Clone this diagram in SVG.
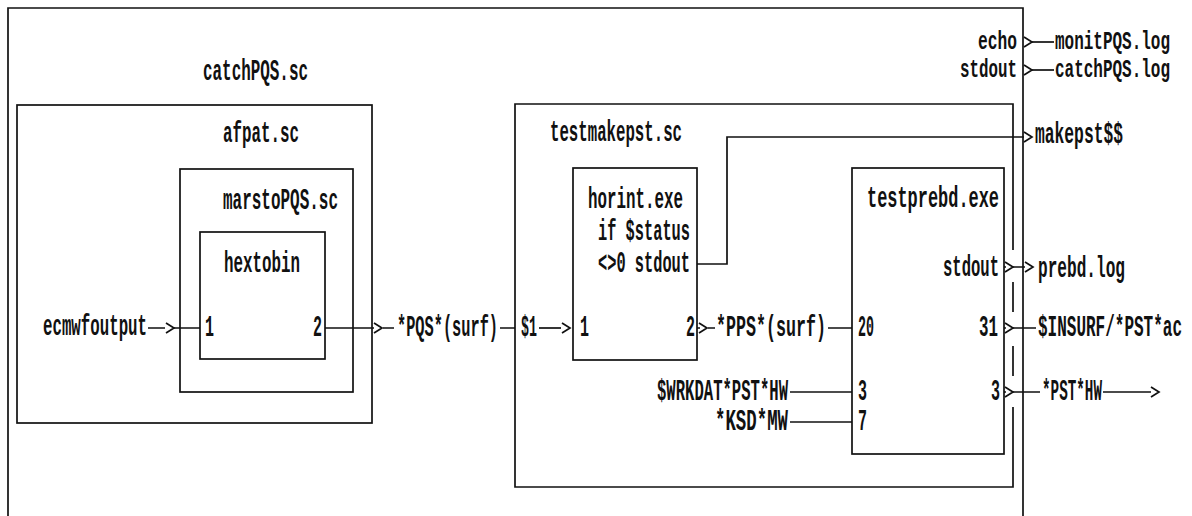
<svg xmlns="http://www.w3.org/2000/svg" xmlns:xlink="http://www.w3.org/1999/xlink" width="1192" height="516" viewBox="0 0 1192 516">
<style>
.b{fill:none;stroke:#111;stroke-width:1.7}
.c{fill:none;stroke:#111;stroke-width:1.7}
text{font-family:"Liberation Mono","Courier New",monospace;font-size:16px;font-weight:bold;fill:#111}
</style>
<defs>
<path id="chev" d="M0,-5 L8,0 L0,5" fill="none" stroke="#111" stroke-width="1.7"/>
</defs>
<rect width="1192" height="516" fill="#fff"/>
<g id="catchPQS">
<path class="b" d="M8,516 L8,8 L1023,8 L1023,516"/>
<text transform="translate(203,80) scale(1,1.8)" textLength="105" lengthAdjust="spacingAndGlyphs">catchPQS.sc</text>
<text transform="translate(978,49) scale(1,1.6)" textLength="39" lengthAdjust="spacingAndGlyphs">echo</text>
<text transform="translate(960,77) scale(1,1.6)" textLength="57" lengthAdjust="spacingAndGlyphs">stdout</text>
</g>
<g id="afpat">
<rect class="b" x="17" y="105" width="355" height="318"/>
<text transform="translate(223,142) scale(1,1.8)" textLength="76" lengthAdjust="spacingAndGlyphs">afpat.sc</text>
</g>
<g id="marstoPQS">
<rect class="b" x="180" y="169" width="173" height="223"/>
<text transform="translate(223,209) scale(1,1.8)" textLength="115" lengthAdjust="spacingAndGlyphs">marstoPQS.sc</text>
</g>
<g id="hextobin">
<rect class="b" x="200" y="232" width="125" height="127"/>
<text transform="translate(224,272) scale(1,1.8)" textLength="76" lengthAdjust="spacingAndGlyphs">hextobin</text>
<text transform="translate(205,336) scale(1,1.8)" textLength="9" lengthAdjust="spacingAndGlyphs">1</text>
<text transform="translate(313,336) scale(1,1.8)" textLength="9" lengthAdjust="spacingAndGlyphs">2</text>
</g>
<g id="testmakepst">
<path class="b" d="M1013,250 L1013,104 L515,104 L515,487 L1013,487 L1013,407 M1013,376 L1013,346 M1013,312 L1013,282"/>
<text transform="translate(550,141) scale(1,1.8)" textLength="132" lengthAdjust="spacingAndGlyphs">testmakepst.sc</text>
</g>
<g id="horint">
<rect class="b" x="573" y="168" width="124" height="192"/>
<text transform="translate(588,208) scale(1,1.8)" textLength="95" lengthAdjust="spacingAndGlyphs">horint.exe</text>
<text transform="translate(598,240) scale(1,1.8)" textLength="92" lengthAdjust="spacingAndGlyphs">if $status</text>
<text transform="translate(598,272) scale(1,1.8)" textLength="92" lengthAdjust="spacingAndGlyphs">&lt;&gt;0 stdout</text>
<text transform="translate(580,336) scale(1,1.8)" textLength="9" lengthAdjust="spacingAndGlyphs">1</text>
<text transform="translate(686,336) scale(1,1.8)" textLength="9" lengthAdjust="spacingAndGlyphs">2</text>
</g>
<g id="testprebd">
<rect class="b" x="852" y="168" width="152" height="286"/>
<text transform="translate(867,207) scale(1,1.8)" textLength="132" lengthAdjust="spacingAndGlyphs">testprebd.exe</text>
<text transform="translate(943,276) scale(1,1.8)" textLength="56" lengthAdjust="spacingAndGlyphs">stdout</text>
<text transform="translate(858,336) scale(1,1.8)" textLength="16" lengthAdjust="spacingAndGlyphs">20</text>
<text transform="translate(979,336) scale(1,1.8)" textLength="19" lengthAdjust="spacingAndGlyphs">31</text>
<text transform="translate(858,400) scale(1,1.8)" textLength="9" lengthAdjust="spacingAndGlyphs">3</text>
<text transform="translate(858,430) scale(1,1.8)" textLength="9" lengthAdjust="spacingAndGlyphs">7</text>
<text transform="translate(991,400) scale(1,1.8)" textLength="9" lengthAdjust="spacingAndGlyphs">3</text>
</g>
<g id="connectors">
<path class="c" d="M148,328 L165,328 M174,328 L200,328"/>
<use xlink:href="#chev" x="166" y="328"/>
<text transform="translate(43,335) scale(1,1.8)" textLength="104" lengthAdjust="spacingAndGlyphs">ecmwfoutput</text>
<path class="c" d="M325,328 L374,328 M383,328 L394,328 M500,328 L515,328"/>
<use xlink:href="#chev" x="374" y="328"/>
<text transform="translate(397,336) scale(1,1.8)" textLength="101" lengthAdjust="spacingAndGlyphs">*PQS*(surf)</text>
<text transform="translate(521,336) scale(1,1.8)" textLength="16" lengthAdjust="spacingAndGlyphs">$1</text>
<path class="c" d="M539,328 L561,328"/>
<use xlink:href="#chev" x="562" y="328"/>
<path class="c" d="M697,328 L700,328 M708,328 L715,328 M828,328 L852,328"/>
<use xlink:href="#chev" x="699" y="328"/>
<text transform="translate(716,336) scale(1,1.8)" textLength="110" lengthAdjust="spacingAndGlyphs">*PPS*(surf)</text>
<path class="c" d="M697,264 L727,264 L727,137 L1024,137"/>
<use xlink:href="#chev" x="1024" y="137"/>
<text transform="translate(1035,143) scale(1,1.8)" textLength="88" lengthAdjust="spacingAndGlyphs">makepst$$</text>
<text transform="translate(657,400) scale(1,1.8)" textLength="131" lengthAdjust="spacingAndGlyphs">$WRKDAT*PST*HW</text>
<path class="c" d="M790,392 L852,392"/>
<text transform="translate(715,430) scale(1,1.8)" textLength="73" lengthAdjust="spacingAndGlyphs">*KSD*MW</text>
<path class="c" d="M790,422 L852,422"/>
<use xlink:href="#chev" x="1024" y="42"/>
<path class="c" d="M1032,42 L1054,42"/>
<text transform="translate(1055,49) scale(1,1.6)" textLength="115" lengthAdjust="spacingAndGlyphs">monitPQS.log</text>
<use xlink:href="#chev" x="1024" y="70"/>
<path class="c" d="M1032,70 L1054,70"/>
<text transform="translate(1055,77) scale(1,1.6)" textLength="115" lengthAdjust="spacingAndGlyphs">catchPQS.log</text>
<path class="c" d="M1004,267 L1006,267 M1013,267 L1025,267"/>
<use xlink:href="#chev" x="1005" y="267"/>
<use xlink:href="#chev" x="1025" y="267"/>
<text transform="translate(1038,277) scale(1,1.8)" textLength="87" lengthAdjust="spacingAndGlyphs">prebd.log</text>
<path class="c" d="M1004,328 L1006,328 M1013,328 L1036,328"/>
<use xlink:href="#chev" x="1005" y="328"/>
<text transform="translate(1038,336) scale(1,1.8)" textLength="144" lengthAdjust="spacingAndGlyphs">$INSURF/*PST*ac</text>
<path class="c" d="M1004,392 L1006,392 M1013,392 L1040,392 M1103,392 L1151,392"/>
<use xlink:href="#chev" x="1005" y="392"/>
<use xlink:href="#chev" x="1151" y="392"/>
<text transform="translate(1042,400) scale(1,1.8)" textLength="60" lengthAdjust="spacingAndGlyphs">*PST*HW</text>
</g>
</svg>
